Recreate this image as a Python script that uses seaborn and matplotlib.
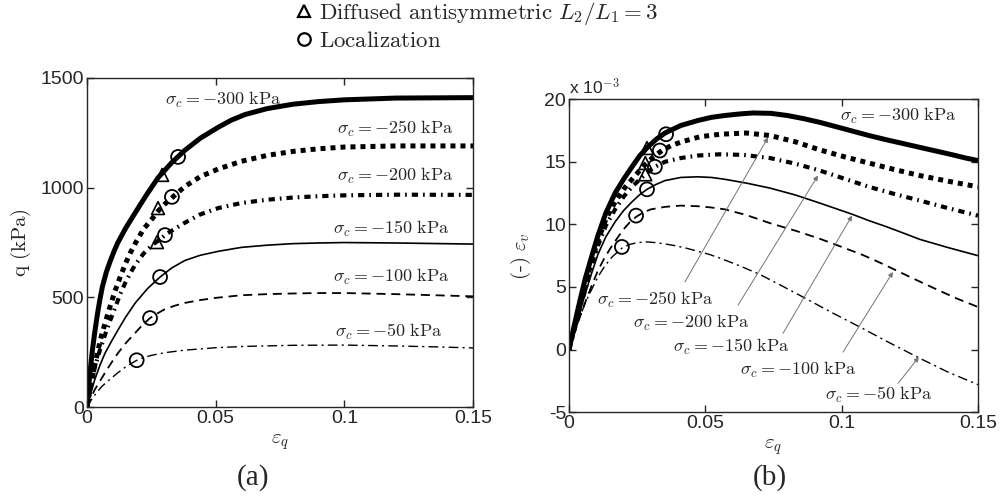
import matplotlib
matplotlib.use("Agg")
import matplotlib.pyplot as plt
import seaborn as sns
from matplotlib.lines import Line2D

# ---- data ----
sigmas = [-300, -250, -200, -150, -100, -50]

# (a) q (kPa) vs eps_q
a_eps_300 = [0, .001, .002, .003, .004, .005, .006, .0075, .009, .0105, .012, .015, .0187, .023,
             .0276, .033, .038, .044, .051, .056, .0614, .07, .08, .09, .1, .11, .12, .135, .15]
a_q_300 = [0, 140, 250, 340, 420, 490, 550, 615, 665, 710, 750, 815, 885, 965,
           1045, 1115, 1170, 1225, 1275, 1307, 1333, 1360, 1380, 1392, 1400, 1404, 1408, 1409, 1410]
a_eps_250 = [0, .001, .002, .003, .0043, .0055, .007, .009, .0109, .0128, .0148, .0167, .0187, .022,
             .0253, .0276, .0305, .0334, .038, .044, .051, .06, .07, .08, .09, .1, .12, .15]
a_q_250 = [0, 70, 130, 190, 260, 320, 383, 460, 530, 590, 650, 700, 745, 812,
           858, 893, 928, 958, 1005, 1050, 1085, 1120, 1147, 1165, 1177, 1185, 1190, 1190]
a_eps_200 = [0, .0015, .003, .005, .007, .009, .0109, .0128, .0148, .0167, .0187, .022, .0253,
             .0284, .031, .0345, .038, .044, .051, .06, .07, .08, .09, .1, .12, .15]
a_q_200 = [0, 95, 180, 260, 330, 395, 452, 512, 565, 608, 648, 700, 738,
           765, 790, 815, 840, 878, 907, 930, 945, 955, 961, 965, 968, 967]
a_eps_150 = [0, .0015, .003, .005, .007, .0095, .012, .015, .0187, .0235, .0284, .033, .038,
             .044, .051, .06, .07, .08, .09, .1, .12, .15]
a_q_150 = [0, 65, 125, 190, 246, 300, 351, 410, 474, 540, 593, 635, 668,
           692, 710, 728, 738, 745, 748, 750, 748, 743]
a_eps_100 = [0, .0015, .003, .005, .007, .0095, .012, .015, .0187, .0215, .0245, .0275, .03,
             .034, .038, .044, .05, .06, .07, .08, .09, .1, .12, .135, .15]
a_q_100 = [0, 42, 80, 118, 157, 203, 246, 291, 338, 374, 406, 428, 445,
           462, 475, 488, 498, 510, 515, 518, 520, 520, 515, 510, 505]
a_eps_50 = [0, .002, .004, .0058, .009, .012, .0155, .0194, .022, .025, .03, .038, .05,
            .0614, .08, .1, .12, .135, .15]
a_q_50 = [0, 40, 70, 95, 128, 157, 188, 214, 226, 236, 248, 260, 271,
          277, 282, 283, 279, 275, 270]

a_tri_eps = [.0292, .0276, .0272]
a_tri_q = [1058, 907, 752]
a_circ_eps = [.0354, .033, .0303, .0284, .0245, .0193]
a_circ_q = [1140, 958, 784, 593, 406, 214]

# (b) eps_v (x 1e-3) vs eps_q
b_eps_300 = [0, .002, .004, .006, .0084, .0106, .0135, .0169, .02, .0231, .026, .029, .032, .0352,
             .041, .0473, .0522, .0572, .0625, .0675, .074, .08, .086, .092, .098, .104, .11,
             .1166, .1227, .1287, .1348, .1408, .1455, .15]
b_ev_300 = [0, 2.0, 3.9, 5.7, 7.5, 9.1, 10.9, 12.5, 13.6, 14.6, 15.5, 16.2, 16.8, 17.3,
            17.9, 18.3, 18.55, 18.7, 18.82, 18.9, 18.87, 18.7, 18.45, 18.15, 17.8, 17.45, 17.1,
            16.75, 16.45, 16.15, 15.85, 15.55, 15.3, 15.1]
b_eps_250 = [0, .002, .004, .006, .0084, .0106, .0135, .0169, .02, .0231, .0255, .028, .031, .0341,
             .0375, .0414, .048, .0554, .065, .0737, .083, .092, .101, .11, .119, .1287, .139, .15]
b_ev_250 = [0, 1.8, 3.6, 5.3, 7.1, 8.7, 10.4, 11.8, 12.8, 13.6, 14.2, 14.8, 15.4, 15.9,
            16.3, 16.6, 17.0, 17.2, 17.3, 17.1, 16.6, 15.95, 15.4, 14.9, 14.4, 13.9, 13.45, 13.0]
b_eps_200 = [0, .002, .004, .006, .0083, .0106, .0135, .0169, .02, .0231, .0255, .028, .0315,
             .0352, .041, .0473, .0554, .064, .0737, .083, .092, .101, .11, .119, .1287, .139, .15]
b_ev_200 = [0, 1.6, 3.3, 4.8, 6.7, 8.3, 9.9, 11.2, 12.2, 13.0, 13.5, 14.0, 14.6,
            15.0, 15.3, 15.5, 15.6, 15.55, 15.3, 14.85, 14.3, 13.65, 13.0, 12.45, 11.9, 11.3, 10.7]
b_eps_150 = [0, .002, .004, .006, .0083, .0106, .0135, .0169, .02, .0231, .0258, .0286, .032,
             .0352, .041, .0473, .0522, .0572, .065, .0737, .083, .092, .098, .104, .11, .1166,
             .1227, .1287, .139, .15]
b_ev_150 = [0, 1.5, 3.0, 4.5, 6.1, 7.6, 9.0, 10.2, 11.1, 11.8, 12.35, 12.8, 13.2,
            13.5, 13.75, 13.8, 13.75, 13.6, 13.3, 12.9, 12.35, 11.7, 11.25, 10.8, 10.3, 9.8,
            9.3, 8.8, 8.15, 7.5]
b_eps_100 = [0, .002, .004, .006, .0083, .0106, .0132, .0158, .018, .02, .0222, .0246, .0272, .03,
             .0352, .041, .0473, .0522, .0572, .065, .0737, .083, .092, .1, .1078, .1135, .1188,
             .127, .1349, .142, .15]
b_ev_100 = [0, 1.3, 2.6, 3.8, 5.1, 6.3, 7.4, 8.3, 9.0, 9.6, 10.15, 10.6, 10.95, 11.2,
            11.4, 11.5, 11.45, 11.35, 11.2, 10.75, 10.1, 9.5, 8.85, 8.2, 7.55, 7.0, 6.45,
            5.6, 4.8, 4.1, 3.4]
b_eps_50 = [0, .0022, .004, .0059, .0083, .0106, .0132, .0158, .0194, .0222, .0253, .0285, .0315,
            .035, .0389, .043, .0473, .0515, .0554, .0625, .07, .078, .0858, .096, .1067, .1175,
            .1287, .139, .15]
b_ev_50 = [0, 1.5, 2.6, 3.7, 4.8, 5.8, 6.7, 7.4, 8.1, 8.4, 8.55, 8.6, 8.55,
           8.45, 8.3, 8.1, 7.85, 7.6, 7.3, 6.7, 6.0, 5.1, 4.2, 3.0, 1.8, 0.55,
           -0.7, -1.8, -2.8]

b_tri_eps = [.0286, .028, .028]
b_tri_ev = [16.1, 14.9, 14.0]
b_circ_eps = [.0356, .0333, .0315, .0286, .0246, .0194]
b_circ_ev = [17.2, 15.9, 14.6, 12.8, 10.7, 8.2]

a_curves = [(a_eps_300, a_q_300), (a_eps_250, a_q_250), (a_eps_200, a_q_200),
            (a_eps_150, a_q_150), (a_eps_100, a_q_100), (a_eps_50, a_q_50)]
b_curves = [(b_eps_300, b_ev_300), (b_eps_250, b_ev_250), (b_eps_200, b_ev_200),
            (b_eps_150, b_ev_150), (b_eps_100, b_ev_100), (b_eps_50, b_ev_50)]

# line styles per confining pressure
line_styles = [
    dict(lw=3.6, linestyle="-"),
    dict(lw=3.6, linestyle=(0, (1, 1))),
    dict(lw=3.0, linestyle=(0, (1.5, 1.2, 0.4, 1.2))),
    dict(lw=1.2, linestyle="-"),
    dict(lw=1.3, linestyle=(0, (5, 3.2))),
    dict(lw=1.0, linestyle=(0, (7, 3, 1.5, 3))),
]

sns.set_style("ticks")
plt.rcParams["font.family"] = ["Liberation Sans", "DejaVu Sans"]
plt.rcParams["mathtext.fontset"] = "cm"
plt.rcParams["xtick.direction"] = "in"
plt.rcParams["ytick.direction"] = "in"
plt.rcParams["xtick.top"] = True
plt.rcParams["ytick.right"] = True
plt.rcParams["axes.linewidth"] = 1.0

fig = plt.figure(figsize=(10, 4.96), dpi=100)
ax1 = fig.add_axes([0.087, 0.179, 0.386, 0.664])
ax2 = fig.add_axes([0.569, 0.169, 0.409, 0.631])


def draw_curves(ax, curves):
    for (x, y), st in zip(curves, line_styles):
        sns.lineplot(x=x, y=y, ax=ax, color="k", sort=False, estimator=None,
                     solid_capstyle="butt", solid_joinstyle="round", **st)


def draw_markers(ax, tx, ty, cx, cy):
    sns.scatterplot(x=tx, y=ty, ax=ax, marker="^", s=85, facecolors="none",
                    edgecolors="k", linewidths=1.2, zorder=5)
    sns.scatterplot(x=cx, y=cy, ax=ax, marker="o", s=100, facecolors="none",
                    edgecolors="k", linewidths=1.3, zorder=5)


draw_curves(ax1, a_curves)
draw_markers(ax1, a_tri_eps, a_tri_q, a_circ_eps, a_circ_q)
draw_curves(ax2, b_curves)
draw_markers(ax2, b_tri_eps, b_tri_ev, b_circ_eps, b_circ_ev)

lab = lambda s: r"$\sigma_c = -%d\ \mathrm{kPa}$" % abs(s)
lab_fs = 13

# labels panel (a)
a_lab_pos = [(.0303, 1400), (.0971, 1268), (.0971, 1053), (.0956, 812), (.0956, 593), (.0964, 342)]
for s, (x, y) in zip(sigmas, a_lab_pos):
    ax1.text(x, y, lab(s), fontsize=lab_fs, ha="left", va="center")

# labels panel (b) with arrows
ax2.text(.0994, 18.7, lab(-300), fontsize=lab_fs, ha="left", va="center")
b_lab_pos = [(.0103, 4.0), (.0235, 2.1), (.0381, 0.2), (.0627, -1.6), (.0939, -3.6)]
b_arrows = [((.0425, 5.4), (.073, 16.95)), ((.062, 3.55), (.0913, 13.9)),
            ((.0785, 1.3), (.1038, 10.7)), ((.1005, -0.2), (.1188, 6.2)),
            ((.1207, -2.7), (.1283, -0.6))]
for s, (x, y), (st, hd) in zip(sigmas[1:], b_lab_pos, b_arrows):
    ax2.text(x, y, lab(s), fontsize=lab_fs, ha="left", va="center")
    ax2.annotate("", xy=hd, xytext=st,
                 arrowprops=dict(arrowstyle="-|>", color="0.45", lw=0.7,
                                 mutation_scale=7, shrinkA=0, shrinkB=0))

for ax in (ax1, ax2):
    ax.set_xlim(0, 0.15)
    ax.set_xticks([0, 0.05, 0.1, 0.15])
    ax.set_xticklabels(["0", "0.05", "0.1", "0.15"])
    ax.tick_params(labelsize=14, length=5, width=1.0, pad=2)
    ax.set_xlabel(r"$\varepsilon_q$", fontsize=15)
    for sp in ax.spines.values():
        sp.set_visible(True)

ax1.set_ylim(0, 1500)
ax1.set_yticks([0, 500, 1000, 1500])
ax1.set_ylabel(r"$\mathrm{q\ (kPa)}$", fontsize=15)
ax1.yaxis.set_label_coords(-0.14, 0.5)
ax1.xaxis.set_label_coords(0.5, -0.075)

ax2.set_ylim(-5, 20)
ax2.set_yticks([-5, 0, 5, 10, 15, 20])
ax2.set_yticklabels(["-5", "0", "5", "10", "15", "20"])
ax2.set_ylabel(r"$\mathrm{(\text{-})}\ \varepsilon_v$", fontsize=15)
ax2.yaxis.set_label_coords(-0.088, 0.5)
ax2.xaxis.set_label_coords(0.5, -0.08)
ax2.text(0.0, 1.005, r"x 10$^{-3}$", transform=ax2.transAxes, fontsize=12.5,
         ha="left", va="bottom")

fig.text(0.253, 0.038, "(a)", fontsize=21, family="Liberation Serif", ha="center", va="center")
fig.text(0.770, 0.038, "(b)", fontsize=21, family="Liberation Serif", ha="center", va="center")

handles = [
    Line2D([], [], ls="none", marker="^", mfc="none", mec="k", mew=1.6, ms=9),
    Line2D([], [], ls="none", marker="o", mfc="none", mec="k", mew=1.6, ms=9),
]
fig.legend(handles, [r"$\mathrm{Diffused\ antisymmetric}\ L_2/L_1 = 3$",
                     r"$\mathrm{Localization}$"],
           loc="upper left", bbox_to_anchor=(0.294, 1.005), frameon=False,
           fontsize=16.5, handlelength=0.7, handletextpad=0.3, borderpad=0.1,
           labelspacing=0.1, borderaxespad=0)

fig.savefig("out.png", dpi=100)
